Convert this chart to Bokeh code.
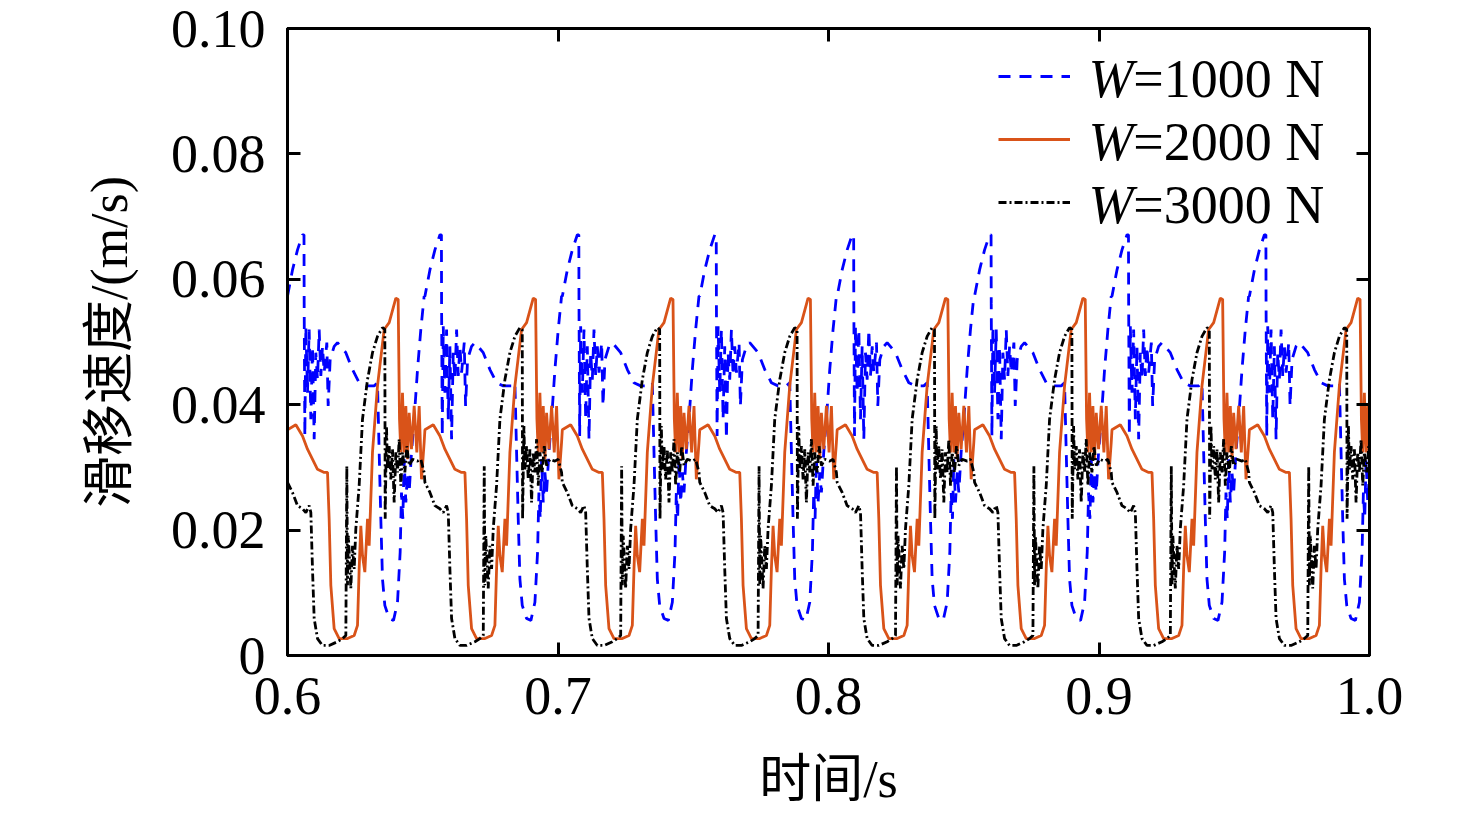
from bokeh.plotting import figure
from bokeh.models import (Range1d, LinearAxis, FixedTicker, CustomJSTickFormatter,
                          Legend, LegendItem, Label)
from bokeh.core.properties import value
from bokeh.embed import file_html
from bokeh.resources import INLINE

# ---------------- data ----------------
# start time (s) of each stick-slip cycle in the window
cycle_starts = [0.6000, 0.6508, 0.7016, 0.7524, 0.8032, 0.8540, 0.9048, 0.9556]

# one cycle of W=1000 N : time offset (ms) / sliding velocity (m/s)
w1000_ms = [0.00, 1.85, 3.70, 5.55, 6.10, 6.16, 6.41, 6.78, 7.39, 8.01, 8.63, 9.24,
            9.86, 10.47, 11.09, 11.71, 12.32, 12.94, 13.56, 14.54, 15.03, 15.77,
            17.25, 18.48, 21.57, 24.03, 26.49, 28.96, 32.04, 33.27, 33.89, 34.50,
            35.12, 35.98, 37.59, 39.19, 40.67, 41.65, 42.14, 42.64, 43.13, 43.75,
            44.36, 44.98, 45.84, 46.83, 48.06, 49.29, 50.52]
w1000_v = [0.0573, 0.0615, 0.0647, 0.0671, 0.0671, 0.0562, 0.0350, 0.0525, 0.0419,
           0.0520, 0.0377, 0.0493, 0.0345, 0.0483, 0.0440, 0.0520, 0.0446, 0.0493,
           0.0451, 0.0499, 0.0398, 0.0472, 0.0493, 0.0499, 0.0483, 0.0456, 0.0435,
           0.0430, 0.0430, 0.0435, 0.0324, 0.0218, 0.0122, 0.0080, 0.0059, 0.0056,
           0.0085, 0.0165, 0.0260, 0.0218, 0.0313, 0.0244, 0.0292, 0.0260, 0.0324,
           0.0377, 0.0456, 0.0520, 0.0573]

# one cycle of W=2000 N
w2000_ms = [0.00, 3.08, 5.55, 7.39, 11.09, 13.56, 14.79, 15.40, 16.02, 17.25, 19.10,
            22.18, 24.65, 25.88, 26.49, 27.11, 27.73, 28.59, 29.58, 30.19, 31.42,
            33.27, 35.74, 37.59, 40.05, 40.91, 41.41, 41.90, 42.51, 43.13, 43.75,
            44.36, 44.98, 45.84, 46.83, 47.81, 48.68, 49.54, 50.52]
w2000_v = [0.0360, 0.0368, 0.0350, 0.0329, 0.0297, 0.0292, 0.0292, 0.0218, 0.0112,
           0.0043, 0.0027, 0.0027, 0.0032, 0.0048, 0.0138, 0.0207, 0.0159, 0.0133,
           0.0218, 0.0175, 0.0324, 0.0430, 0.0520, 0.0531, 0.0570, 0.0568, 0.0377,
           0.0324, 0.0419, 0.0324, 0.0398, 0.0313, 0.0387, 0.0329, 0.0398, 0.0324,
           0.0398, 0.0281, 0.0340]

# one cycle of W=3000 N
w3000_ms = [0.00, 1.85, 3.70, 5.55, 6.78, 8.01, 8.63, 9.24, 9.86, 11.09, 12.94, 15.40,
            18.48, 20.33, 21.57, 21.93, 22.18, 22.50, 22.80, 23.41, 24.03, 24.65,
            25.26, 26.49, 27.73, 29.58, 31.42, 33.27, 35.12, 35.98, 36.11, 36.60,
            36.97, 37.59, 38.20, 38.82, 39.43, 40.05, 40.67, 41.28, 41.90, 42.51,
            43.38, 44.12, 44.98, 46.21, 48.06, 49.29, 50.52]
w3000_v = [0.0276, 0.0260, 0.0239, 0.0234, 0.0228, 0.0239, 0.0228, 0.0138, 0.0059,
           0.0027, 0.0016, 0.0016, 0.0022, 0.0027, 0.0032, 0.0302, 0.0112, 0.0191,
           0.0165, 0.0107, 0.0175, 0.0138, 0.0202, 0.0271, 0.0377, 0.0440, 0.0483,
           0.0509, 0.0523, 0.0520, 0.0218, 0.0366, 0.0297, 0.0334, 0.0281, 0.0329,
           0.0244, 0.0324, 0.0292, 0.0345, 0.0271, 0.0324, 0.0292, 0.0334, 0.0303,
           0.0313, 0.0310, 0.0313, 0.0292]

series_labels = ["=1000 N", "=2000 N", "=3000 N"]
x_ticks = [0.6, 0.7, 0.8, 0.9, 1.0]
y_ticks = [0.0, 0.02, 0.04, 0.06, 0.08, 0.10]
x_title = "时间/s"
y_title = "滑移速度/(m/s)"


def build(ms, v):
    xs, ys = [], []
    for t0 in cycle_starts:
        for m, val in zip(ms, v):
            xs.append(t0 + m / 1000.0)
            ys.append(val)
    return xs, ys


x1, y1 = build(w1000_ms, w1000_v)
x2, y2 = build(w2000_ms, w2000_v)
x3, y3 = build(w3000_ms, w3000_v)

# ---------------- figure ----------------
SERIF = "Liberation Serif"
CJK = "Liberation Serif, Noto Sans CJK SC"
FS = "54px"

p = figure(width=1468, height=810, output_backend="svg", toolbar_location=None,
           x_range=Range1d(0.6, 1.0), y_range=Range1d(0.0, 0.10),
           min_border_left=287, min_border_right=99, min_border_top=28,
           min_border_bottom=153, background_fill_color="white",
           border_fill_color="white")
p.xgrid.visible = False
p.ygrid.visible = False
p.outline_line_color = "black"
p.outline_line_width = 3

r1 = p.line(x1, y1, line_color="#0000FF", line_width=2.8, line_dash="12 9")
r2 = p.line(x2, y2, line_color="#D95319", line_width=2.8)
r3 = p.line(x3, y3, line_color="black", line_width=2.8, line_dash="8 3 2 3")


def style_axis(ax, ticks):
    ax.ticker = FixedTicker(ticks=ticks)
    ax.minor_tick_line_color = None
    ax.major_tick_in = 13
    ax.major_tick_out = 0
    ax.major_tick_line_width = 3
    ax.axis_line_width = 3
    ax.major_label_text_font = SERIF
    ax.major_label_text_font_size = FS
    ax.major_label_text_color = "black"
    ax.axis_label_text_font = CJK
    ax.axis_label_text_font_style = "normal"
    ax.axis_label_text_font_size = "52px"
    ax.axis_label_text_color = "black"


xa = p.xaxis[0]
ya = p.yaxis[0]
style_axis(xa, x_ticks)
style_axis(ya, y_ticks)
xa.formatter = CustomJSTickFormatter(code="return tick.toFixed(1);")
ya.formatter = CustomJSTickFormatter(code="return tick < 1e-9 ? '0' : tick.toFixed(2);")
xa.axis_label = x_title
ya.axis_label = y_title
xa.major_label_standoff = 22
ya.major_label_standoff = 22
xa.axis_label_standoff = 34
ya.axis_label_standoff = 30

top = LinearAxis()
right = LinearAxis()
for ax, t in ((top, x_ticks), (right, y_ticks)):
    style_axis(ax, t)
    ax.formatter = CustomJSTickFormatter(code="return '';")
    ax.major_label_text_font_size = "1px"
    ax.major_label_standoff = 0
p.add_layout(top, "above")
p.add_layout(right, "right")

# legend (line samples) + labels with italic W
legend = Legend(items=[LegendItem(label=value(""), renderers=[r]) for r in (r1, r2, r3)],
                location=(711, 428), orientation="vertical",
                glyph_width=72, glyph_height=50, spacing=13, padding=0, margin=0,
                label_standoff=0, label_text_font_size="10px",
                border_line_color=None, background_fill_alpha=0)
p.add_layout(legend, "center")

row_y = [0.0920, 0.0819, 0.0719]
for lab, yy in zip(series_labels, row_y):
    p.add_layout(Label(x=0.8961, y=yy, text="W", text_font=SERIF, text_font_style="italic",
                       text_font_size=FS, text_baseline="middle", text_color="black"))
    p.add_layout(Label(x=0.9127, y=yy, text=lab, text_font=SERIF, text_font_size=FS,
                       text_baseline="middle", text_color="black"))

open("out.html", "w").write(file_html(p, INLINE))
